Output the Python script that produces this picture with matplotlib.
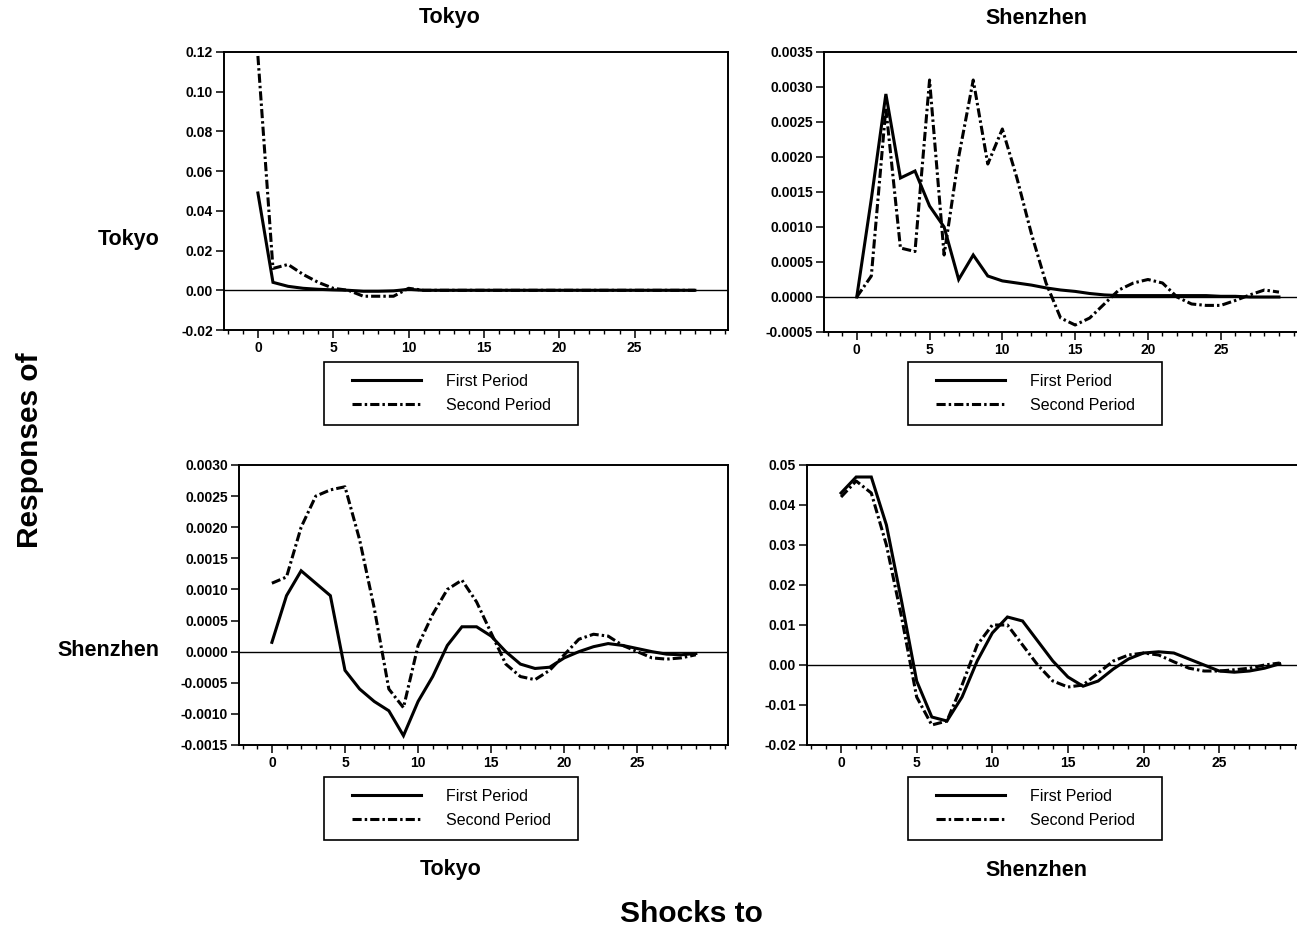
import numpy as np
import matplotlib
matplotlib.use("Agg")
import matplotlib.pyplot as plt
from matplotlib.lines import Line2D
from matplotlib.legend_handler import HandlerLine2D
from matplotlib.ticker import MultipleLocator, FormatStrFormatter

plt.rcParams['font.family'] = ['Liberation Sans', 'DejaVu Sans']

horizon = list(range(30))

# Response of Tokyo to Tokyo shock
tt_first = [0.049, 0.004, 0.002, 0.001, 0.0005, 0.0002, 0.0, -0.0005, -0.0005, -0.0003,
            0.0005, 0.0, 0.0, 0.0, 0.0, 0.0, 0.0, 0.0, 0.0, 0.0,
            0.0, 0.0, 0.0, 0.0, 0.0, 0.0, 0.0, 0.0, 0.0, 0.0]
tt_second = [0.118, 0.011, 0.013, 0.008, 0.004, 0.001, 0.0, -0.003, -0.003, -0.003,
             0.001, 0.0, 0.0, 0.0, 0.0, 0.0, 0.0, 0.0, 0.0, 0.0,
             0.0, 0.0, 0.0, 0.0, 0.0, 0.0, 0.0, 0.0, 0.0, 0.0]

# Response of Tokyo to Shenzhen shock
ts_first = [0.0, 0.0014, 0.0029, 0.0017, 0.0018, 0.0013, 0.0010, 0.00025, 0.0006, 0.0003,
            0.00023, 0.0002, 0.00017, 0.00013, 0.0001, 0.00008, 0.00005, 0.00003, 0.00002, 0.00002,
            0.00002, 0.00002, 0.00002, 0.00002, 0.00002, 0.00001, 0.00001, 0.0, 0.0, 0.0]
ts_second = [0.0, 0.0003, 0.0027, 0.0007, 0.00065, 0.0031, 0.0006, 0.0020, 0.0031, 0.0019,
             0.0024, 0.0017, 0.0009, 0.0002, -0.0003, -0.0004, -0.0003, -0.0001, 0.0001, 0.0002,
             0.00025, 0.0002, 0.0, -0.0001, -0.00012, -0.00012, -0.00005, 0.00003, 0.0001, 0.00007]

# Response of Shenzhen to Tokyo shock
st_first = [0.00015, 0.0009, 0.0013, 0.0011, 0.0009, -0.0003, -0.0006, -0.0008, -0.00095, -0.00135,
            -0.0008, -0.0004, 0.0001, 0.0004, 0.0004, 0.00025, 0.0, -0.0002, -0.00027, -0.00025,
            -0.0001, 0.0, 0.00008, 0.00013, 0.0001, 0.00005, 0.0, -0.00004, -0.00005, -0.00003]
st_second = [0.0011, 0.0012, 0.0020, 0.0025, 0.0026, 0.00265, 0.0018, 0.0007, -0.0006, -0.0009,
             0.0001, 0.0006, 0.0010, 0.00115, 0.0008, 0.0003, -0.0002, -0.0004, -0.00045, -0.0003,
             -0.00005, 0.0002, 0.00028, 0.00025, 0.0001, 0.0, -0.0001, -0.00012, -0.0001, -0.00005]

# Response of Shenzhen to Shenzhen shock
ss_first = [0.043, 0.047, 0.047, 0.035, 0.016, -0.004, -0.013, -0.014, -0.008, 0.001,
            0.008, 0.012, 0.011, 0.006, 0.001, -0.003, -0.0053, -0.004, -0.001, 0.0015,
            0.003, 0.0033, 0.003, 0.0015, 0.0, -0.0015, -0.0018, -0.0015, -0.0008, 0.0003]
ss_second = [0.042, 0.046, 0.043, 0.030, 0.012, -0.008, -0.015, -0.014, -0.005, 0.005,
             0.010, 0.010, 0.005, 0.0, -0.004, -0.0055, -0.005, -0.002, 0.001, 0.0025,
             0.003, 0.0025, 0.0008, -0.0008, -0.0015, -0.0015, -0.0012, -0.0008, 0.0, 0.0005]

series_labels = ["First Period", "Second Period"]
names = ["Tokyo", "Shenzhen"]
x_ticks = [0, 5, 10, 15, 20, 25]

W, H = 1297, 931
fig = plt.figure(figsize=(W / 100, H / 100), dpi=100)


def fig_rect(l, t, r, b):
    return [l / W, 1 - b / H, (r - l) / W, (b - t) / H]


panels = [
    dict(rect=fig_rect(224, 52, 728, 330), first=tt_first, second=tt_second,
         ylim=(-0.02, 0.12), ystep=0.02, fmt='%.2f', leg=(324, 362, 578, 423)),
    dict(rect=fig_rect(824, 52, 1311, 332), first=ts_first, second=ts_second,
         ylim=(-0.0005, 0.0035), ystep=0.0005, fmt='%.4f', leg=(908, 362, 1162, 423)),
    dict(rect=fig_rect(239, 465, 728, 745), first=st_first, second=st_second,
         ylim=(-0.0015, 0.0030), ystep=0.0005, fmt='%.4f', leg=(324, 777, 578, 838)),
    dict(rect=fig_rect(807, 465, 1313, 745), first=ss_first, second=ss_second,
         ylim=(-0.02, 0.05), ystep=0.01, fmt='%.2f', leg=(908, 777, 1162, 838)),
]

dash = (3.0, 1.0, 0.8, 1.0)
lw = 2.2

for p in panels:
    ax = fig.add_axes(p['rect'])
    l1, = ax.plot(horizon, p['first'], color='black', lw=lw, solid_joinstyle='miter')
    l2, = ax.plot(horizon, p['second'], color='black', lw=lw, dashes=dash)
    ax.axhline(0, color='black', lw=1.0)
    ax.set_xlim(-2.25, 31.2)
    ax.set_ylim(*p['ylim'])
    ax.set_xticks(x_ticks)
    ax.xaxis.set_minor_locator(MultipleLocator(1))
    ax.yaxis.set_major_locator(MultipleLocator(p['ystep']))
    ax.yaxis.set_major_formatter(FormatStrFormatter(p['fmt']))
    ax.tick_params(axis='both', which='major', direction='out', length=6, width=1.1,
                   labelsize=10, pad=2)
    ax.tick_params(axis='x', which='minor', direction='out', length=3, width=1.0)
    ax.tick_params(axis='y', which='minor', length=0)
    for lab in ax.get_xticklabels() + ax.get_yticklabels():
        lab.set_fontweight('bold')
    for s in ax.spines.values():
        s.set_linewidth(1.4)
    l, t, r, b = p['leg']
    leg = ax.legend([l1, l2], series_labels, loc='upper left',
                    bbox_to_anchor=(l / W, 1 - b / H, (r - l) / W, (b - t) / H),
                    bbox_transform=fig.transFigure, mode='expand',
                    fontsize=11.5, frameon=True, fancybox=False, borderpad=0.75,
                    handlelength=5.3, handletextpad=1.6, labelspacing=0.55,
                    borderaxespad=0,
                    handler_map={Line2D: HandlerLine2D(xpad=1.0)})
    fr = leg.get_frame()
    fr.set_edgecolor('black')
    fr.set_linewidth(1.2)
    fr.set_alpha(1)

title_kw = dict(fontsize=15.5, fontweight='bold', ha='center', va='center')
fig.text(450 / W, 1 - 18 / H, names[0], **title_kw)
fig.text(1036 / W, 1 - 18 / H, names[1], **title_kw)
fig.text(451 / W, 1 - 870 / H, names[0], **title_kw)
fig.text(1036 / W, 1 - 870 / H, names[1], **title_kw)
fig.text(159 / W, 1 - 239 / H, names[0], fontsize=15.5, fontweight='bold', ha='right', va='center')
fig.text(159 / W, 1 - 650 / H, names[1], fontsize=15.5, fontweight='bold', ha='right', va='center')
fig.text(30 / W, 1 - 450 / H, "Responses of", fontsize=21.5, fontweight='bold',
         rotation=90, ha='center', va='center')
fig.text(691 / W, 1 - 914 / H, "Shocks to", fontsize=21.5, fontweight='bold',
         ha='center', va='center')

fig.savefig("out.png", dpi=100)
